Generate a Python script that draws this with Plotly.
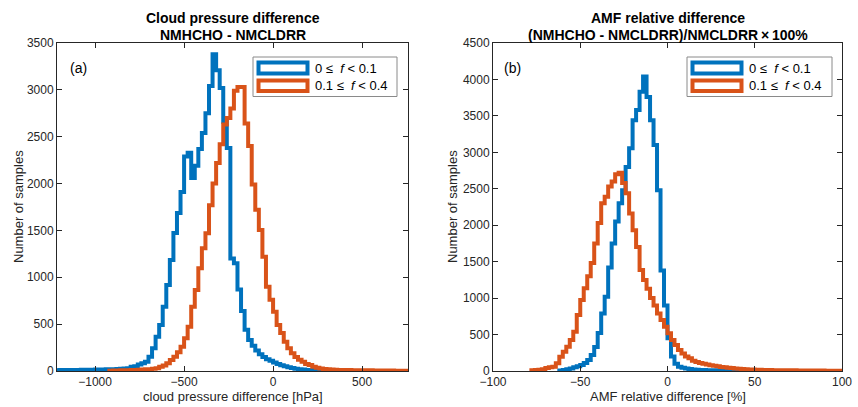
import plotly.graph_objects as go

W, H = 858, 407

# ---------------- data ----------------
# Left panel: cloud pressure difference [hPa], bin width 20
cpd_bin_width = 20
cpd_blue_start = -1220
cpd_blue_counts = [8, 10, 9, 11, 10, 12, 11, 13, 12, 14, 13,
                   15, 14, 16, 18, 17, 20, 22, 25, 28,
                   30, 46, 50, 70, 82, 100, 153, 242, 366, 491,
                   686, 918, 1185, 1473, 1686, 1910, 2290, 2330, 2060, 2190,
                   2370, 2540, 2750, 3040, 3380, 3210, 3020, 2660, 2380, 1200,
                   1150, 870, 640, 440, 330, 270, 220, 180, 150, 125,
                   110, 92, 75, 62, 50, 40, 32, 25, 20, 15,
                   12, 10, 8, 7, 6, 5, 4, 3, 3]
cpd_orange_start = -920
cpd_orange_counts = [4, 5, 6, 7, 8, 9, 10, 12, 14, 16, 18, 20, 24, 30,
                     46, 60, 82, 117, 153, 200, 260, 349, 473, 686,
                     864, 1096, 1310, 1470, 1770, 2000, 2220, 2420, 2630, 2700,
                     2800, 2990, 3030, 3030, 2640, 2400, 1990, 1720, 1505, 1220,
                     900, 760, 633, 491, 405, 313, 242, 189, 150, 120,
                     100, 75, 64, 46, 35, 28, 22, 18, 15, 13,
                     12, 11, 10, 10, 9, 9, 8, 8, 7, 7,
                     6, 6, 6, 5, 5, 5, 4, 4, 4, 4]

# Right panel: AMF relative difference [%], bin width 2
amf_bin_width = 2
amf_blue_start = -62
amf_blue_counts = [8, 15, 25, 35, 50, 65, 82, 110, 150, 220,
                   330, 520, 790, 1020, 1420, 1750, 2050, 2300, 2480, 2800,
                   3055, 3440, 3580, 3830, 4040, 3760, 3440, 3100, 2480, 1380,
                   900, 450, 200, 100, 60, 45, 35, 28, 22, 18,
                   15, 13, 11, 10, 9, 8, 7, 6, 6, 5,
                   5, 4, 4, 3, 3, 3]
amf_orange_start = -78
amf_orange_counts = [10, 15, 18, 25, 40, 50, 59, 106, 196, 265,
                     333, 425, 539, 768, 974, 1134, 1300, 1480, 1750, 2030,
                     2300, 2390, 2530, 2600, 2700, 2720, 2580, 2440, 2160, 1930,
                     1700, 1385, 1250, 1130, 1000, 900, 790, 700, 608, 517,
                     425, 357, 288, 240, 200, 174, 141, 125, 110, 100,
                     90, 80, 73, 65, 55, 50, 46, 40, 35, 30,
                     27, 25, 22, 20, 18, 16, 15, 14, 13, 12,
                     12, 11, 10, 10, 9, 9, 8, 8, 8, 7,
                     7, 6, 6, 6, 5, 5, 5, 5, 5]

series_names = ["0 \u2264  <i>f</i> < 0.1", "0.1 \u2264  <i>f</i> < 0.4"]
left_xticks = [-1000, -500, 0, 500]
left_yticks = [0, 500, 1000, 1500, 2000, 2500, 3000, 3500]
right_xticks = [-100, -50, 0, 50, 100]
right_yticks = [0, 500, 1000, 1500, 2000, 2500, 3000, 3500, 4000, 4500]

BLUE = "#0072BD"
ORANGE = "#D95319"
AX = "#262626"
FONT = "Liberation Sans, Arial, Helvetica, sans-serif"


def stairs(start, width, counts):
    edges = [start + i * width for i in range(len(counts) + 1)]
    xs = [edges[0]] + edges
    ys = [0] + list(counts) + [0]
    return xs, ys


def px(x):
    return x / W


def py(y):
    return 1 - y / H


fig = go.Figure()

for (start, width, counts, color, xa, ya) in [
    (cpd_blue_start, cpd_bin_width, cpd_blue_counts, BLUE, "x", "y"),
    (cpd_orange_start, cpd_bin_width, cpd_orange_counts, ORANGE, "x", "y"),
    (amf_blue_start, amf_bin_width, amf_blue_counts, BLUE, "x2", "y2"),
    (amf_orange_start, amf_bin_width, amf_orange_counts, ORANGE, "x2", "y2"),
]:
    xs, ys = stairs(start, width, counts)
    fig.add_trace(go.Scatter(x=xs, y=ys, mode="lines",
                             line=dict(color=color, width=4, shape="hv"),
                             xaxis=xa, yaxis=ya, showlegend=False,
                             hoverinfo="skip"))

axis_common = dict(showgrid=False, zeroline=False, showline=True,
                   linecolor=AX, linewidth=1, mirror="ticks",
                   ticks="inside", ticklen=5, tickwidth=1, tickcolor=AX,
                   automargin=False,
                   tickfont=dict(family=FONT, size=12, color=AX))

ydom = [py(371), py(43)]
fig.update_layout(
    width=W, height=H, autosize=False,
    margin=dict(l=0, r=0, t=0, b=0, pad=0, autoexpand=False),
    paper_bgcolor="white", plot_bgcolor="white",
    xaxis=dict(domain=[px(57), px(408)], range=[-1214, 758],
               tickvals=left_xticks, anchor="y", **axis_common),
    yaxis=dict(domain=ydom, range=[0, 3500], tickvals=left_yticks,
               anchor="x", **axis_common),
    xaxis2=dict(domain=[px(493), px(842)], range=[-100, 100],
                tickvals=right_xticks, anchor="y2", **axis_common),
    yaxis2=dict(domain=ydom, range=[0, 4500], tickvals=right_yticks,
                anchor="x2", **axis_common),
)

ann = []


def text(x, y, s, size=13, bold=False, xanchor="center", yanchor="middle",
         angle=0, color="black"):
    if bold:
        s = "<b>" + s + "</b>"
    ann.append(dict(x=px(x), y=py(y), xref="paper", yref="paper", text=s,
                    showarrow=False, xanchor=xanchor, yanchor=yanchor,
                    textangle=angle,
                    font=dict(family=FONT, size=size, color=color)))


# titles
text(232.5, 18, "Cloud pressure difference", 14, True)
text(232.5, 35, "NMHCHO - NMCLDRR", 14, True)
text(667.5, 18, "AMF relative difference", 14, True)
text(667.5, 35, "(NMHCHO - NMCLDRR)/NMCLDRR\u2009\u00d7\u2009100%", 14, True)
# axis titles
text(232.5, 396, "cloud pressure difference [hPa]", 13, color=AX)
text(667.5, 396, "AMF relative difference [%]", 13, color=AX)
text(18, 207, "Number of samples", 13, angle=-90, color=AX)
text(452, 207, "Number of samples", 13, angle=-90, color=AX)
# panel labels
text(78, 68, "(a)", 14)
text(512, 68, "(b)", 14)

shapes = []


def rect(x0, y0, x1, y1, color, width, fill="white"):
    shapes.append(dict(type="rect", xref="paper", yref="paper",
                       x0=px(x0), x1=px(x1), y0=py(y1), y1=py(y0),
                       line=dict(color=color, width=width), fillcolor=fill,
                       layer="above"))


for (bx0, bx1, tx) in [(253, 397, 313), (687, 832, 747)]:
    rect(bx0, 57, bx1, 96.5, "#8a8a8a", 1)
    rect(bx0 + 5.5, 62.5, bx0 + 54.5, 73.5, BLUE, 4)
    rect(bx0 + 5.5, 80.5, bx0 + 54.5, 91, ORANGE, 4)
    text(tx, 68.5, series_names[0], 13, xanchor="left")
    text(tx, 85.5, series_names[1], 13, xanchor="left")

fig.update_layout(annotations=ann, shapes=shapes)
fig.write_html(
    "out.html",
    config={"displayModeBar": False},
    post_script="document.body.style.margin='0';"
                "document.body.style.overflow='hidden';",
)
